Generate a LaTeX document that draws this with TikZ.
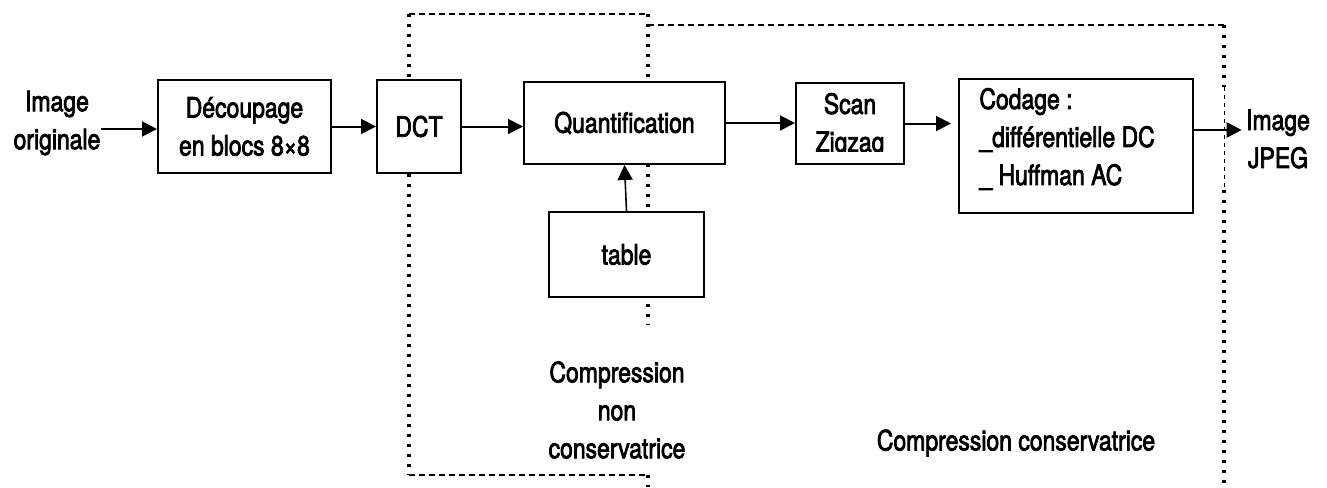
\documentclass[tikz,border=0pt]{standalone}
\usepackage{fontspec}
\setmainfont{TeX Gyre Heros}[FakeStretch=0.82,FakeBold=2.6]
\usetikzlibrary{arrows.meta,calc}

\begin{document}
\begin{tikzpicture}[x=0.5pt,y=-0.5pt,
  box/.style={draw, line width=1pt, fill=white, inner sep=0pt},
  arr/.style={line width=1pt, -{Triangle[length=7.5pt,width=7.5pt]}},
  txt/.style={align=center, inner sep=0pt},
  hdot/.style={line width=1.3pt, dash pattern=on 3pt off 2pt},
  vdot/.style={line width=1.8pt, dash pattern=on 1.6pt off 3.4pt},
  font=\fontsize{14}{19}\selectfont]
\useasboundingbox (0,0) rectangle (1327,487);

% lossy stage frame
\draw[hdot] (409,14) -- (648,14);
\draw[vdot] (409,14) -- (409,475);
\draw[hdot] (409,475) -- (648,475);
\draw[vdot] (648,14) -- (648,325);
\draw[vdot] (648,475) -- (648,487);
% lossless stage frame
\draw[hdot] (648,25) -- (1224,25);
\draw[vdot] (1224,25) -- (1224,87);
\draw[line width=0.4pt, dash pattern=on 2pt off 2pt] (1224,87) -- (1224,190);
\draw[vdot] (1224,190) -- (1224,487);

% processing blocks
\node[txt] (orig) at (57,123) {Image\\originale};
\node[box, minimum width=86.5pt, minimum height=46.5pt, align=center] (decoup) at (244.5,126.5) {Découpage\\en blocs 8×8};
\node[box, minimum width=42pt, minimum height=46.5pt] (dct) at (419,126.5) {DCT};
\node[box, minimum width=100.5pt, minimum height=41pt] (quant) at (624.5,123) {Quantification\hspace{10pt}};
\node[box, minimum width=77.5pt, minimum height=42.5pt] (table) at (626.5,254.5) {table};
\node[box, minimum width=54pt, minimum height=40.5pt] (scan) at (850,123.5) {};
\begin{scope}
  \clip (796,83) rectangle (904,151);
  \node[txt] (scantxt) at (850,125.5) {Scan\\Zigzag};
\end{scope}
\node[box, minimum width=117pt, minimum height=67pt] (codage) at (1076,146) {};
\node[txt, align=left, anchor=west] (codtxt) at (979,139) {Codage :\\\_différentielle DC\\\_ Huffman AC};
\node[txt, inner sep=2pt] (jpeg) at (1278,139) {Image\\JPEG};

\node[txt] (nonc) at (617,410) {Compression\\non\\conservatrice};
\node[txt] (cons) at (1016,443) {Compression conservatrice};

% data flow
\coordinate (inA) at ($(orig.east)+(0,6)$);
\coordinate (outA) at ($(codage.east)+(0,-16)$);
\coordinate (codIn) at ($(scan.east -| codage.west)+(-7,0)$);
\draw[arr] (inA) -- (inA -| decoup.west);
\draw[arr] (decoup.east) -- (dct.west);
\draw[arr] (dct.east) -- (dct.east -| quant.west);
\draw[arr] (quant.east) -- (quant.east -| scan.west);
\draw[arr] (scan.east) -- (codIn);
\draw[arr] (outA) -- (outA -| jpeg.west);
\draw[arr, line width=0.8pt] (table.north) -- (quant.south);
\end{tikzpicture}
\end{document}
